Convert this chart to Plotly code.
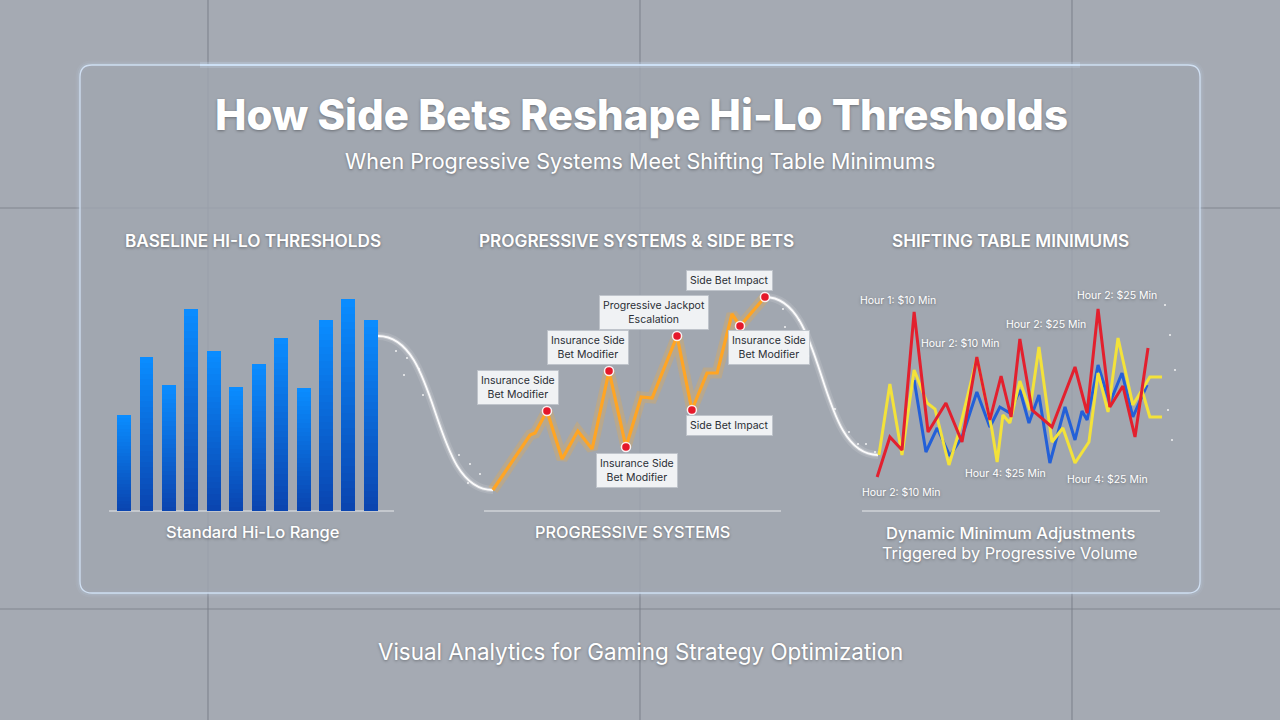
import plotly.graph_objects as go

# ---------------- DATA ----------------
# Panel 1: baseline Hi-Lo thresholds (12 bars)
bar_labels = [f"T{i}" for i in range(1, 13)]
bar_values = [4.8, 7.7, 6.3, 10.1, 8.0, 6.2, 7.35, 8.65, 6.15, 9.55, 10.6, 9.55]

# Panel 2: progressive systems & side bets
prog_x = [3.0, 15.5, 17.2, 21.2, 26.3, 31.6, 36.4, 42.1, 47.8, 52.9, 56.6, 65.0, 70.0, 75.1, 78.5, 83.5, 86.2, 94.6]
prog_y = [2.1, 7.6, 7.8, 10.0, 5.2, 8.0, 6.2, 14.0, 6.4, 11.4, 11.3, 17.5, 10.1, 13.8, 13.8, 19.7, 18.5, 21.4]
event_idx = [3, 7, 8, 11, 12, 16, 17]
event_text = ["Insurance Side<br>Bet Modifier", "Insurance Side<br>Bet Modifier", "Insurance Side<br>Bet Modifier",
              "Progressive Jackpot<br>Escalation", "Side Bet Impact", "Insurance Side<br>Bet Modifier", "Side Bet Impact"]
event_shift = [(-29, 24), (-21, 24), (11, -23), (-23, 24), (38, -15), (29, -21), (-35, 17)]

# Panel 3: shifting table minimums
red_x = [5.0, 9.2, 13.2, 17.2, 21.8, 27.7, 33.0, 37.9, 42.2, 45.9, 49.2, 52.1, 56.1, 62.7, 70.3, 74.3, 77.9, 81.8, 86.1, 90.1, 94.4]
red_y = [3.4, 7.4, 6.1, 19.9, 7.9, 10.8, 6.9, 15.4, 9.1, 13.5, 9.4, 17.2, 10.1, 8.4, 14.4, 9.8, 20.2, 10.4, 12.5, 7.4, 16.3]
blue_x = [17.2, 21.1, 24.8, 29.0, 33.0, 37.9, 42.2, 45.5, 48.8, 52.1, 55.1, 58.4, 62.0, 67.0, 70.3, 72.6, 74.3, 77.9, 81.8, 85.8, 89.4, 94.1]
blue_y = [13.1, 5.9, 8.3, 5.5, 7.4, 11.9, 8.4, 10.4, 9.8, 12.1, 8.8, 11.6, 4.8, 10.4, 7.1, 10.0, 9.1, 14.6, 10.8, 13.8, 9.4, 12.6]
yel_x = [5.6, 9.2, 13.2, 17.2, 21.5, 24.1, 28.7, 31.7, 37.9, 42.9, 44.6, 46.5, 48.8, 52.1, 55.4, 58.4, 62.7, 66.3, 70.3, 74.9, 77.9, 81.2, 84.5, 89.4, 92.4, 95.0, 99.0]
yel_y = [5.6, 12.7, 5.6, 14.1, 10.8, 10.2, 4.6, 7.6, 15.3, 8.1, 4.9, 9.6, 8.8, 13.0, 10.1, 16.4, 6.9, 8.3, 4.8, 6.9, 13.8, 9.9, 17.3, 10.6, 12.1, 13.4, 13.4]
yel2_x = [92.4, 95.0, 99.0]
yel2_y = [12.1, 9.4, 9.4]
hour_labels = ["Hour 1: $10 Min", "Hour 2: $10 Min", "Hour 2: $25 Min", "Hour 2: $25 Min",
               "Hour 4: $25 Min", "Hour 4: $25 Min", "Hour 2: $10 Min"]
hour_x = [11.9, 32.3, 60.7, 84.2, 47.5, 80.9, 12.9]
hour_y = [21.1, 16.8, 18.7, 21.6, 3.8, 3.2, 1.9]

TITLE = "How Side Bets Reshape Hi-Lo Thresholds"
SUBTITLE = "When Progressive Systems Meet Shifting Table Minimums"
HEADERS = ["BASELINE HI-LO THRESHOLDS", "PROGRESSIVE SYSTEMS & SIDE BETS", "SHIFTING TABLE MINIMUMS"]
FOOTER = "Visual Analytics for Gaming Strategy Optimization"

# ---------------- HELPERS ----------------
W, H = 1280, 720
def PX(p): return p / W
def PY(p): return 1 - p / H

FONT = "Inter, Roboto, 'Open Sans', sans-serif"
SHADOW = "0px 1px 3px rgba(0,0,0,0.35)"

def hexmix(c1, c2, t):
    a = [int(c1[i:i + 2], 16) for i in (1, 3, 5)]
    b = [int(c2[i:i + 2], 16) for i in (1, 3, 5)]
    return "#%02x%02x%02x" % tuple(round(a[k] + (b[k] - a[k]) * t) for k in range(3))

fig = go.Figure()

# ---------------- PANEL 1: gradient bars (stacked slices) ----------------
K = 28
for k in range(K):
    t = k / (K - 1)
    fig.add_trace(go.Bar(
        x=list(range(len(bar_values))), y=[v / K for v in bar_values],
        marker=dict(color=hexmix("#0a45b0", "#0a8cff", t), line=dict(width=0)),
        width=0.62, xaxis="x", yaxis="y", hoverinfo="skip", showlegend=False))

# ---------------- PANEL 2: progressive line ----------------
fig.add_trace(go.Scatter(x=prog_x, y=prog_y, mode="lines", xaxis="x2", yaxis="y2",
                         line=dict(color="rgba(255,170,40,0.25)", width=11), hoverinfo="skip", showlegend=False))
fig.add_trace(go.Scatter(x=prog_x, y=prog_y, mode="lines", xaxis="x2", yaxis="y2",
                         line=dict(color="#ffa524", width=3.2), hoverinfo="skip", showlegend=False))
fig.add_trace(go.Scatter(x=[prog_x[i] for i in event_idx], y=[prog_y[i] for i in event_idx], mode="markers",
                         xaxis="x2", yaxis="y2",
                         marker=dict(color="#e5182a", size=9, line=dict(color="rgba(255,255,255,0.9)", width=1.5)),
                         hoverinfo="skip", showlegend=False))

# ---------------- PANEL 3: three table-minimum lines ----------------
for xs, ys, col in [(blue_x, blue_y, "#2360d8"), (yel_x, yel_y, "#f3e23a"), (yel2_x, yel2_y, "#f3e23a"),
                    (red_x, red_y, "#e3202e")]:
    fig.add_trace(go.Scatter(x=xs, y=ys, mode="lines", xaxis="x3", yaxis="y3",
                             line=dict(color=col, width=3), hoverinfo="skip", showlegend=False))

# ---------------- SHAPES ----------------
shapes = []
# background tile lines
for x in (208, 640, 1072):
    shapes.append(dict(type="line", xref="paper", yref="paper", x0=PX(x), x1=PX(x), y0=0, y1=1,
                       line=dict(color="rgba(120,126,136,0.8)", width=1.2), layer="below"))
for y in (208, 609):
    shapes.append(dict(type="line", xref="paper", yref="paper", x0=0, x1=1, y0=PY(y), y1=PY(y),
                       line=dict(color="rgba(120,126,136,0.8)", width=1.2), layer="below"))

def rrect(x0, y0, x1, y1, r):
    rx, ry = r / W, r / H
    X0, X1, Y0, Y1 = PX(x0), PX(x1), PY(y0), PY(y1)
    return (f"M {X0+rx},{Y0} L {X1-rx},{Y0} Q {X1},{Y0} {X1},{Y0-ry} L {X1},{Y1+ry} Q {X1},{Y1} {X1-rx},{Y1} "
            f"L {X0+rx},{Y1} Q {X0},{Y1} {X0},{Y1+ry} L {X0},{Y0-ry} Q {X0},{Y0} {X0+rx},{Y0} Z")

# panel glow + panel
for wdt, op in [(9, 0.06), (5, 0.12)]:
    shapes.append(dict(type="path", xref="paper", yref="paper", path=rrect(80, 65, 1200, 593, 12),
                       line=dict(color=f"rgba(200,225,255,{op})", width=wdt), layer="below"))
shapes.append(dict(type="path", xref="paper", yref="paper", path=rrect(80, 65, 1200, 593, 12),
                   fillcolor="rgba(160,166,176,0.82)", line=dict(color="rgba(215,232,252,0.85)", width=1.3),
                   layer="below"))
# top highlight glow
for wdt, op in [(6, 0.18), (2, 0.6)]:
    shapes.append(dict(type="line", xref="paper", yref="paper", x0=PX(200), x1=PX(1080), y0=PY(65), y1=PY(65),
                       line=dict(color=f"rgba(210,232,255,{op})", width=wdt), layer="below"))

# baselines
for a, b in [(109, 394), (484, 781), (862, 1160)]:
    shapes.append(dict(type="line", xref="paper", yref="paper", x0=PX(a), x1=PX(b), y0=PY(511), y1=PY(511),
                       line=dict(color="rgba(255,255,255,0.75)", width=1), layer="below"))

# connector curves
def curve(x0, y0, x3, y3):
    c1x = x0 + (x3 - x0) * 0.55
    c2x = x0 + (x3 - x0) * 0.45
    return f"M {PX(x0)},{PY(y0)} C {PX(c1x)},{PY(y0)} {PX(c2x)},{PY(y3)} {PX(x3)},{PY(y3)}"
for (a, b, c, d) in [(378, 336, 493, 490), (765, 297, 878, 455)]:
    for wdt, col in [(8, "rgba(255,255,255,0.12)"), (4, "rgba(255,255,255,0.25)"), (1.8, "rgba(255,255,255,0.95)")]:
        shapes.append(dict(type="path", xref="paper", yref="paper", path=curve(a, b, c, d),
                           line=dict(color=col, width=wdt), layer="below"))

# sparkle dots near connectors
sparkles = [(396, 351), (407, 358), (419, 369), (404, 375), (423, 395), (459, 455), (470, 464), (480, 474), (468, 483),
            (783, 309), (799, 320), (785, 327), (809, 356), (835, 409), (849, 432), (866, 444), (858, 444), (875, 452),
            (1170, 335), (1175, 370), (1168, 410), (1172, 440), (1165, 305)]
for sx, sy in sparkles:
    shapes.append(dict(type="circle", xref="paper", yref="paper", x0=PX(sx - 1), x1=PX(sx + 1),
                       y0=PY(sy + 1), y1=PY(sy - 1), fillcolor="rgba(255,255,255,0.85)", line=dict(width=0),
                       layer="below"))

# ---------------- ANNOTATIONS ----------------
ann = []
def txt(text, x, y, size, weight="normal", color="white"):
    ann.append(dict(text=text, x=PX(x), y=PY(y), xref="paper", yref="paper", showarrow=False,
                    xanchor="center", yanchor="middle",
                    font=dict(family=FONT, size=size, color=color, weight=weight, shadow=SHADOW)))

txt(TITLE, 641, 115, 42, 800)
txt(SUBTITLE, 640, 161, 21.5)
txt(HEADERS[0], 253, 241, 17.2, 600)
txt(HEADERS[1], 636, 241, 17.2, 600)
txt(HEADERS[2], 1010, 241, 17.2, 600)
txt("Standard Hi-Lo Range", 252, 532, 16.5, 500)
txt("PROGRESSIVE SYSTEMS", 632, 532, 16.3, 500)
txt("Dynamic Minimum Adjustments", 1010, 533, 16.5, 500)
txt("Triggered by Progressive Volume", 1010, 553, 16.3)
txt(FOOTER, 640, 651, 22.4)

for i, t, (dx, dy) in zip(event_idx, event_text, event_shift):
    ann.append(dict(text=t, x=prog_x[i], y=prog_y[i], xref="x2", yref="y2", showarrow=False,
                    xshift=dx, yshift=dy, xanchor="center", yanchor="middle",
                    bgcolor="rgba(244,245,247,0.96)", bordercolor="rgba(190,195,202,0.9)", borderwidth=1,
                    borderpad=3, font=dict(family=FONT, size=10.5, color="#2a2e35")))

for t, x, y in zip(hour_labels, hour_x, hour_y):
    ann.append(dict(text=t, x=x, y=y, xref="x3", yref="y3", showarrow=False,
                    xanchor="center", yanchor="middle",
                    font=dict(family=FONT, size=10.5, color="white", shadow=SHADOW)))

ax_common = dict(visible=False, fixedrange=True)
fig.update_layout(
    width=W, height=H, autosize=False,
    margin=dict(l=0, r=0, t=0, b=0),
    paper_bgcolor="#a5aab3", plot_bgcolor="rgba(0,0,0,0)",
    barmode="stack", showlegend=False,
    xaxis=dict(domain=[PX(109), PX(394)], range=[-0.67, 12.03], anchor="y", **ax_common),
    yaxis=dict(domain=[PY(511), PY(290)], range=[0, 11.05], anchor="x", **ax_common),
    xaxis2=dict(domain=[PX(484), PX(781)], range=[0, 100], anchor="y2", **ax_common),
    yaxis2=dict(domain=[PY(511), PY(260)], range=[0, 25.1], anchor="x2", **ax_common),
    xaxis3=dict(domain=[PX(862), PX(1165)], range=[0, 100], anchor="y3", **ax_common),
    yaxis3=dict(domain=[PY(511), PY(290)], range=[0, 22.1], anchor="x3", **ax_common),
    shapes=shapes, annotations=ann,
)

fig.write_html("out.html", config={"displayModeBar": False, "staticPlot": True})
